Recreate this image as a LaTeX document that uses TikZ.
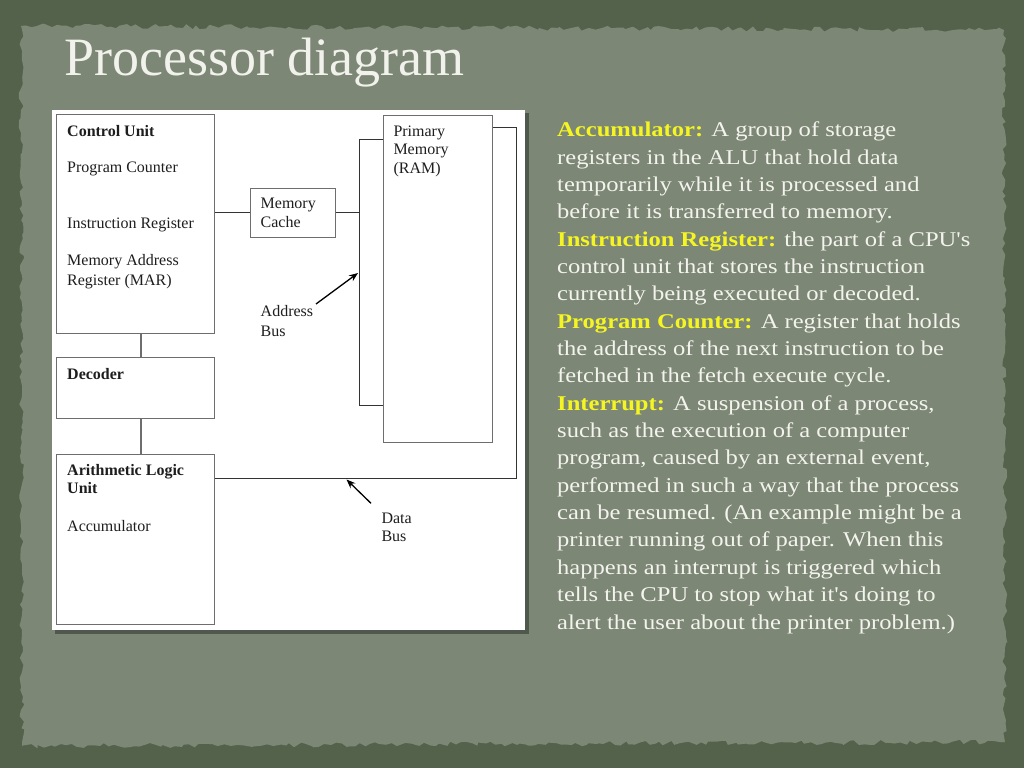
\documentclass[tikz,border=0pt]{standalone}
\usepackage{fontspec}
\setmainfont{Liberation Serif}
\newfontfamily\bodyfont[FakeStretch=1.17]{Liberation Serif}
\usetikzlibrary{arrows.meta,decorations.pathmorphing}
\definecolor{bgdark}{HTML}{55624B}
\definecolor{panelc}{HTML}{7C8775}
\definecolor{titlec}{HTML}{F2F2EC}
\definecolor{keyc}{HTML}{F5F523}
\definecolor{bodyc}{HTML}{F4F4EE}
\definecolor{boxline}{HTML}{6E6E6E}
\definecolor{busline}{HTML}{333333}
\definecolor{dtext}{HTML}{1E1E1E}
\tikzset{
  blk/.style={draw=boxline, line width=1.3pt, fill=white, minimum width=158pt, anchor=north west, inner sep=0pt},
  dlabel/.style={anchor=base west, inner sep=0pt, text=dtext, font=\fontsize{16}{19}\selectfont},
  dbold/.style={dlabel, font=\fontsize{16}{19}\selectfont\bfseries},
  wire/.style={draw=busline, line width=1.2pt},
  arr/.style={draw=black, line width=1.3pt, -{Stealth[length=9pt,width=7pt]}},
}
\begin{document}
\begin{tikzpicture}[x=1pt,y=-1pt]
\useasboundingbox (0,0) rectangle (1024,768);
\fill[bgdark] (0,0) rectangle (1024,768);
\pgfmathsetseed{7}
\fill[panelc, decorate, decoration={random steps, segment length=5pt, amplitude=2.5pt}]
  (21,26) -- (1004,30) -- (1005,742) -- (22,746) -- cycle;
% title
\node[anchor=base west, inner sep=0pt, text=titlec, font=\fontsize{54}{60}\selectfont] (title) at (64,75) {Processor diagram};
% white diagram panel with shadow
\fill[black, opacity=0.35] (55,113) rectangle (529,634);
\fill[white] (52,110) rectangle (525,630);
% blocks
\node[blk, minimum height=219pt] (cu) at (56,114) {};
\node[blk, minimum height=61pt] (dec) at (56,357) {};
\node[blk, minimum height=170pt] (alu) at (56,454) {};
\node[blk, minimum width=85pt, minimum height=49pt] (cache) at (250,187.5) {};
\node[blk, minimum width=109pt, minimum height=327.5pt] (ram) at (383,114.5) {};
% texts
\node[dbold] (t1) at (67,136) {Control Unit};
\node[dlabel] (t2) at (67,172.7) {Program Counter};
\node[dlabel] (t3) at (67,228.3) {Instruction Register};
\node[dlabel] (t4) at (67,265.7) {Memory Address};
\node[dlabel] (t5) at (67,285) {Register (MAR)};
\node[dbold] (t6) at (67,379.3) {Decoder};
\node[dbold] (t7) at (67,475) {Arithmetic Logic};
\node[dbold] (t8) at (67,493.3) {Unit};
\node[dlabel] (t9) at (67,531) {Accumulator};
\node[dlabel] (c1) at (260.5,208.3) {Memory};
\node[dlabel] (c2) at (260.5,227.3) {Cache};
\node[dlabel] (r1) at (393.3,136) {Primary};
\node[dlabel] (r2) at (393.3,154.3) {Memory};
\node[dlabel] (r3) at (393.3,173.3) {(RAM)};
\node[dlabel] (ab1) at (260.5,316.7) {Address};
\node[dlabel] (ab2) at (260.5,336) {Bus};
\node[dlabel] (db1) at (381.3,523.3) {Data};
\node[dlabel] (db2) at (381.3,541.7) {Bus};
% connectors
\coordinate (vx) at (141,0);
\draw[draw=boxline, line width=1.3pt] (cu.south -| vx) -- (dec.north -| vx);
\draw[draw=boxline, line width=1.3pt] (dec.south -| vx) -- (alu.north -| vx);
\draw[wire] (cu.east |- cache.west) -- (cache.west);
\coordinate (abt) at (359.3,139.3);
\coordinate (abb) at (359.3,405.3);
\draw[wire] (cache.east) -- (cache.east -| abt);
\draw[wire] (ram.west |- abt) -- (abt) -- (abb) -- (ram.west |- abb);
\coordinate (dbl) at (214,478.3);
\coordinate (dbr) at (516.7,478.3);
\coordinate (dbt) at (516.7,127.3);
\draw[wire] (alu.east |- dbl) -- (dbr) -- (dbt) -- (ram.east |- dbt);
% arrows
\coordinate (aa0) at (316,304);
\coordinate (aa1) at (358,273);
\draw[arr] (aa0) -- (aa1);
\coordinate (da0) at (371,503.3);
\coordinate (da1) at (346.5,479.5);
\draw[arr] (da0) -- (da1);
% right text (base anchor = baseline of last line)
\node[anchor=base west, inner sep=0pt, align=left, text=bodyc,
      font=\bodyfont\fontsize{21}{27.35}\selectfont] (body) at (557,629) {%
\textcolor{keyc}{\bfseries Accumulator:} A group of storage\\
registers in the ALU that hold data\\
temporarily while it is processed and\\
before it is transferred to memory.\\
\textcolor{keyc}{\bfseries Instruction Register:} the part of a CPU's\\
control unit that stores the instruction\\
currently being executed or decoded.\\
\textcolor{keyc}{\bfseries Program Counter:} A register that holds\\
the address of the next instruction to be\\
fetched in the fetch execute cycle.\\
\textcolor{keyc}{\bfseries Interrupt:} A suspension of a process,\\
such as the execution of a computer\\
program, caused by an external event,\\
performed in such a way that the process\\
can be resumed. (An example might be a\\
printer running out of paper. When this\\
happens an interrupt is triggered which\\
tells the CPU to stop what it's doing to\\
alert the user about the printer problem.)};
\end{tikzpicture}
\end{document}
